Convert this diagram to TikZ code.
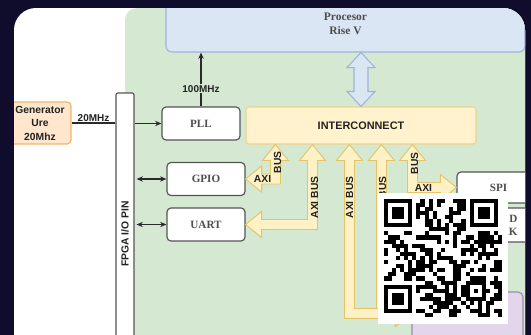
\documentclass[tikz,border=0pt]{standalone}
\usepackage{fontspec}
\setmainfont{Liberation Serif}
\setsansfont{Liberation Sans}
\usetikzlibrary{arrows.meta, calc, positioning}

\newlength\upx
\setlength\upx{0.3mm}

\definecolor{bgnavy}{HTML}{0F0C2C}
\definecolor{fpgagreen}{HTML}{D4E8D2}
\definecolor{procfill}{HTML}{DBE6F4}
\definecolor{procline}{HTML}{9DB3D8}
\definecolor{icfill}{HTML}{FFF2CC}
\definecolor{icline}{HTML}{ECD38F}
\definecolor{busfill}{HTML}{FFF1C6}
\definecolor{busline}{HTML}{E6C466}
\definecolor{genfill}{HTML}{FFE6CC}
\definecolor{genline}{HTML}{F2B56B}
\definecolor{purplefill}{HTML}{E4D6EA}
\definecolor{purpleline}{HTML}{A088B0}
\definecolor{boxgray}{HTML}{555555}
\definecolor{textgray}{HTML}{4D4D4D}
\definecolor{wiregray}{HTML}{2A2A2A}
\definecolor{lblink}{HTML}{222222}

% L-shaped double block arrow: tip on interconnect, tip on block, side (-1 left, 1 right)
\newcommand{\busbend}[3]{%
  \draw[busarrow] let \p1=(#1), \p2=(#2) in
    (\x1,\y1) -- ({\x1-(#3)*13*\upx},{\y1-16*\upx}) -- ({\x1-(#3)*5*\upx},{\y1-16*\upx})
    -- ({\x1-(#3)*5*\upx},{\y2-5*\upx}) -- ({\x2-(#3)*16*\upx},{\y2-5*\upx})
    -- ({\x2-(#3)*16*\upx},{\y2-13*\upx}) -- (\x2,\y2)
    -- ({\x2-(#3)*16*\upx},{\y2+13*\upx}) -- ({\x2-(#3)*16*\upx},{\y2+5*\upx})
    -- ({\x1+(#3)*5*\upx},{\y2+5*\upx}) -- ({\x1+(#3)*5*\upx},{\y1-16*\upx})
    -- ({\x1+(#3)*13*\upx},{\y1-16*\upx}) -- cycle;
}
% straight vertical double block arrow: style, top tip, bottom tip, head half width, body half width, head length
\newcommand{\dblarrow}[6]{%
  \draw[#1] let \p1=(#2), \p2=(#3) in
    (\x1,\y1) -- ({\x1+#4*\upx},{\y1-#6*\upx}) -- ({\x1+#5*\upx},{\y1-#6*\upx})
    -- ({\x1+#5*\upx},{\y2+#6*\upx}) -- ({\x1+#4*\upx},{\y2+#6*\upx}) -- (\x1,\y2)
    -- ({\x1-#4*\upx},{\y2+#6*\upx}) -- ({\x1-#5*\upx},{\y2+#6*\upx})
    -- ({\x1-#5*\upx},{\y1-#6*\upx}) -- ({\x1-#4*\upx},{\y1-#6*\upx}) -- cycle;
}

\begin{document}
\begin{tikzpicture}[
    x=0.3mm, y=-0.3mm,
    wire/.style={draw=wiregray, line width=0.9pt},
    onearrow/.style={wire, -{Stealth[length=1.9mm, width=1.6mm]}},
    twoarrow/.style={wire, {Stealth[length=1.9mm, width=1.6mm]}-{Stealth[length=1.9mm, width=1.6mm]}},
    ipblock/.style={rectangle, draw=boxgray, fill=white, line width=1pt, rounded corners=4\upx,
        minimum width=78\upx, minimum height=33\upx, text=textgray, font={\fontsize{9.5}{11}\selectfont\bfseries}},
    fpgaarea/.style={rectangle, fill=fpgagreen, rounded corners=12\upx, minimum width=415\upx, minimum height=352\upx},
    procbox/.style={rectangle, fill=procfill, draw=procline, line width=0.9pt, rounded corners=6\upx,
        minimum width=359\upx, minimum height=56\upx, align=center, text=textgray,
        font={\fontsize{9.8}{12}\selectfont\bfseries}},
    genbox/.style={rectangle, fill=genfill, draw=genline, line width=1pt, rounded corners=4\upx,
        minimum width=62\upx, minimum height=40\upx, align=center, text=lblink,
        font={\sffamily\bfseries\fontsize{8.8}{11.5}\selectfont}},
    pinbar/.style={rectangle, fill=white, draw=boxgray, line width=1pt, rounded corners=2\upx,
        minimum width=18\upx, minimum height=267\upx},
    icbox/.style={rectangle, fill=icfill, draw=icline, line width=0.9pt, rounded corners=3\upx,
        minimum width=230\upx, minimum height=37\upx, text=lblink,
        font={\sffamily\bfseries\fontsize{9.3}{11}\selectfont}},
    purplebox/.style={rectangle, fill=purplefill, draw=purpleline, line width=1pt, rounded corners=5\upx,
        minimum width=111\upx, minimum height=68\upx},
    busarrow/.style={fill=busfill, draw=busline, line width=0.8pt},
    cpulink/.style={fill=procfill, draw=procline, line width=0.9pt},
    buslbl/.style={font={\sffamily\bfseries\fontsize{8.8}{10}\selectfont}, text=lblink, inner sep=0pt},
    freqlbl/.style={font={\sffamily\bfseries\fontsize{8.5}{10}\selectfont}, text=lblink, inner sep=1pt}
]
    \fill[bgnavy] (0,0) rectangle (531,335);
    \useasboundingbox (0,0) rectangle (531,335);
    \fill[white, rounded corners=22\upx] (14,8) rectangle (525,360);

    \begin{scope}
    \clip[rounded corners=22\upx] (14,8) rectangle (525,360);

    % areas
    \node[fpgaarea] (fpga) at (332.5,184) {};
    \node[procbox] (proc) at (345.5,24) {Procesor\\Rise V};
    \node[genbox] (gen) at (40,123) {Generator\\Ure\\20Mhz};
    \node[pinbar] (pins) at (125,226.5) {};
    \node[buslbl, rotate=90] (pinlbl) at (125,234) {FPGA I/O PIN};

    % blocks
    \node[ipblock] (pll) at (201,123.5) {PLL};
    \node[icbox] (ic) at (361,125.5) {INTERCONNECT};
    \node[ipblock] (gpio) at (206,179) {GPIO};
    \node[ipblock] (uart) at (206,224.5) {UART};
    \node[ipblock, minimum width=83\upx, minimum height=31\upx] (spi) at (498.5,187.5) {SPI};
    \node[ipblock, minimum width=83\upx, minimum height=34\upx, text width=38\upx, align=right] (ioblk) at (498.5,225) {D\\IK};
    \node[purplebox] (ext) at (467.5,326) {};

    % clock lines
    \draw[wire] (gen.east) -- (gen.east -| pins.west) node[freqlbl, midway, above] {20MHz};
    \draw[onearrow] (pins.east |- pll.west) -- (pll.west);
    \draw[onearrow] (pll.north) -- (pll.north |- proc.south) node[freqlbl, pos=0.33, fill=fpgagreen] {100MHz};
    \draw[twoarrow] ($(pins.east |- gpio.west)+(2,0)$) -- (gpio.west);
    \draw[twoarrow] ($(pins.east |- uart.west)+(2,0)$) -- (uart.west);

    % processor link
    \dblarrow{cpulink}{ic.north |- proc.south}{ic.north}{14}{7}{15}

    % AXI buses
    \coordinate (ic1) at ($(ic.south west)+(30,0)$);
    \coordinate (ic2) at ($(ic.south west)+(67,0)$);
    \coordinate (ic3) at ($(ic.south west)+(104,0)$);
    \coordinate (ic4) at ($(ic.south west)+(136,0)$);
    \coordinate (ic5) at ($(ic.south west)+(167,0)$);
    \coordinate (p3) at ($(ext.north west)+(0,22)$);

    \busbend{ic4}{p3}{1}
    \busbend{ic3}{p3}{1}
    \busbend{ic1}{gpio.east}{-1}
    \busbend{ic2}{uart.east}{-1}
    \busbend{ic5}{spi.west}{1}

    \node[buslbl, rotate=90] at ($(ic1)+(2,18)$) {BUS};
    \node[buslbl] at ($(gpio.east)+(17,0)$) {AXI};
    \node[buslbl, rotate=90] at ($(ic2)+(2,53)$) {AXI BUS};
    \node[buslbl, rotate=90] at ($(ic3)+(0,53)$) {AXI BUS};
    \node[buslbl, rotate=90] at ($(ic4)+(1,53)$) {AXI BUS};
    \node[buslbl, rotate=90] at ($(ic5)+(2,19)$) {BUS};
    \node[buslbl] at ($(spi.west)+(-33,0)$) {AXI};
    \end{scope}

    % QR overlay
    \fill[white] (378,193) rectangle (508,324);
    \begin{scope}[shift={(383.5,198.5)}, x=1.23mm, y=-1.23mm]
        \pgfmathsetseed{4242}
        \foreach \i in {0,...,28} {
            \foreach \j in {0,...,28} {
                \pgfmathrandominteger{\qbit}{0}{1}
                \ifnum\qbit=1 \fill[black] (\i,\j) rectangle ++(1.02,1.02); \fi
            }
        }
        \foreach \cx/\cy in {0/0, 21/0, 0/21} {
            \fill[white] (\cx-1,\cy-1) rectangle ++(9,9);
            \fill[black] (\cx,\cy) rectangle ++(7,7);
            \fill[white] (\cx+1,\cy+1) rectangle ++(5,5);
            \fill[black] (\cx+2,\cy+2) rectangle ++(3,3);
        }
        \fill[black] (20,20) rectangle ++(5,5);
        \fill[white] (21,21) rectangle ++(3,3);
        \fill[black] (22,22) rectangle ++(1,1);
    \end{scope}
\end{tikzpicture}
\end{document}
